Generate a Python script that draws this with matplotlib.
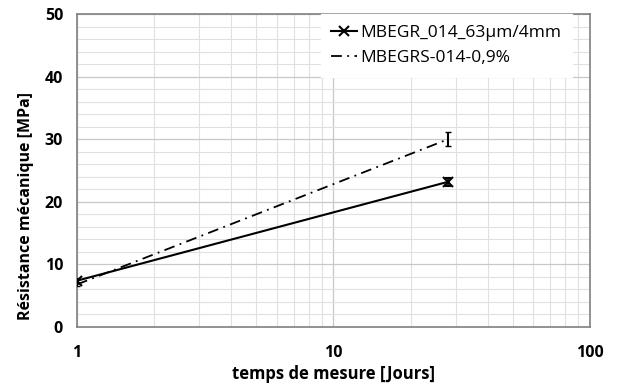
import matplotlib
matplotlib.use("Agg")
import matplotlib.pyplot as plt
from matplotlib.lines import Line2D
from matplotlib.ticker import FixedLocator, NullFormatter, FuncFormatter

# data
days = [1, 28]
mbegr = [7.4, 23.2]
mbegr_err = [0.3, 0.6]
mbegrs = [6.8, 30.0]
mbegrs_err = [0.3, 1.1]
labels = ["MBEGR_014_63µm/4mm", "MBEGRS-014-0,9%"]

plt.rcParams["font.family"] = ["Open Sans", "DejaVu Sans"]

fig = plt.figure(figsize=(6.17, 3.9), dpi=100)
ax = fig.add_axes([0.1248, 0.1615, 0.8312, 0.8025])

dashdot = (0, (6, 3, 1, 3))
ax.errorbar(days, mbegr, yerr=mbegr_err, color="black", lw=1.5, marker="x",
            ms=7, mew=1.5, capsize=2, elinewidth=1.2, zorder=3)
ax.errorbar(days, mbegrs, yerr=mbegrs_err, color="black", lw=1.3, ls=dashdot,
            capsize=2.5, elinewidth=1.5, zorder=3)

ax.set_xscale("log")
ax.set_xlim(1, 100)
ax.set_ylim(0, 50)
ax.yaxis.set_major_locator(FixedLocator([0, 10, 20, 30, 40, 50]))
ax.yaxis.set_minor_locator(FixedLocator([v for v in range(0, 51, 2) if v % 10]))
ax.xaxis.set_major_locator(FixedLocator([1, 10, 100]))
ax.xaxis.set_minor_locator(FixedLocator([m * d for d in (1, 10) for m in range(2, 10)]))
ax.xaxis.set_major_formatter(FuncFormatter(lambda v, p: f"{v:g}"))
ax.xaxis.set_minor_formatter(NullFormatter())

ax.grid(which="major", color="#c8c8c8", lw=0.9)
ax.grid(which="minor", color="#e0e0e0", lw=0.8)
ax.set_axisbelow(True)

for s in ax.spines.values():
    s.set_color("#808080")
    s.set_linewidth(1.2)
ax.tick_params(which="both", length=0, pad=10)
ax.tick_params(axis="x", pad=13)
ax.tick_params(which="major", labelsize=11.5)
for t in ax.get_xticklabels() + ax.get_yticklabels():
    t.set_fontweight("bold")

ax.set_xlabel("temps de mesure [Jours]", fontsize=12, fontweight="bold", labelpad=3)
ax.set_ylabel("Résistance mécanique [MPa]", fontsize=11.5, fontweight="bold")
ax.yaxis.set_label_coords(-0.084, 0.387)

handles = [
    Line2D([], [], color="black", lw=1.5, marker="x", ms=7, mew=1.5),
    Line2D([], [], color="black", lw=1.3, ls=dashdot),
]
leg = ax.legend(handles, labels, loc="upper right", bbox_to_anchor=(0.965, 1.0),
                frameon=True, fancybox=False, fontsize=12.5, handlelength=1.5,
                handletextpad=0.2, borderaxespad=0.0, labelspacing=0.55,
                borderpad=0.6)
leg.get_frame().set_edgecolor("white")
leg.get_frame().set_alpha(1)

fig.savefig("out.png", dpi=100)
